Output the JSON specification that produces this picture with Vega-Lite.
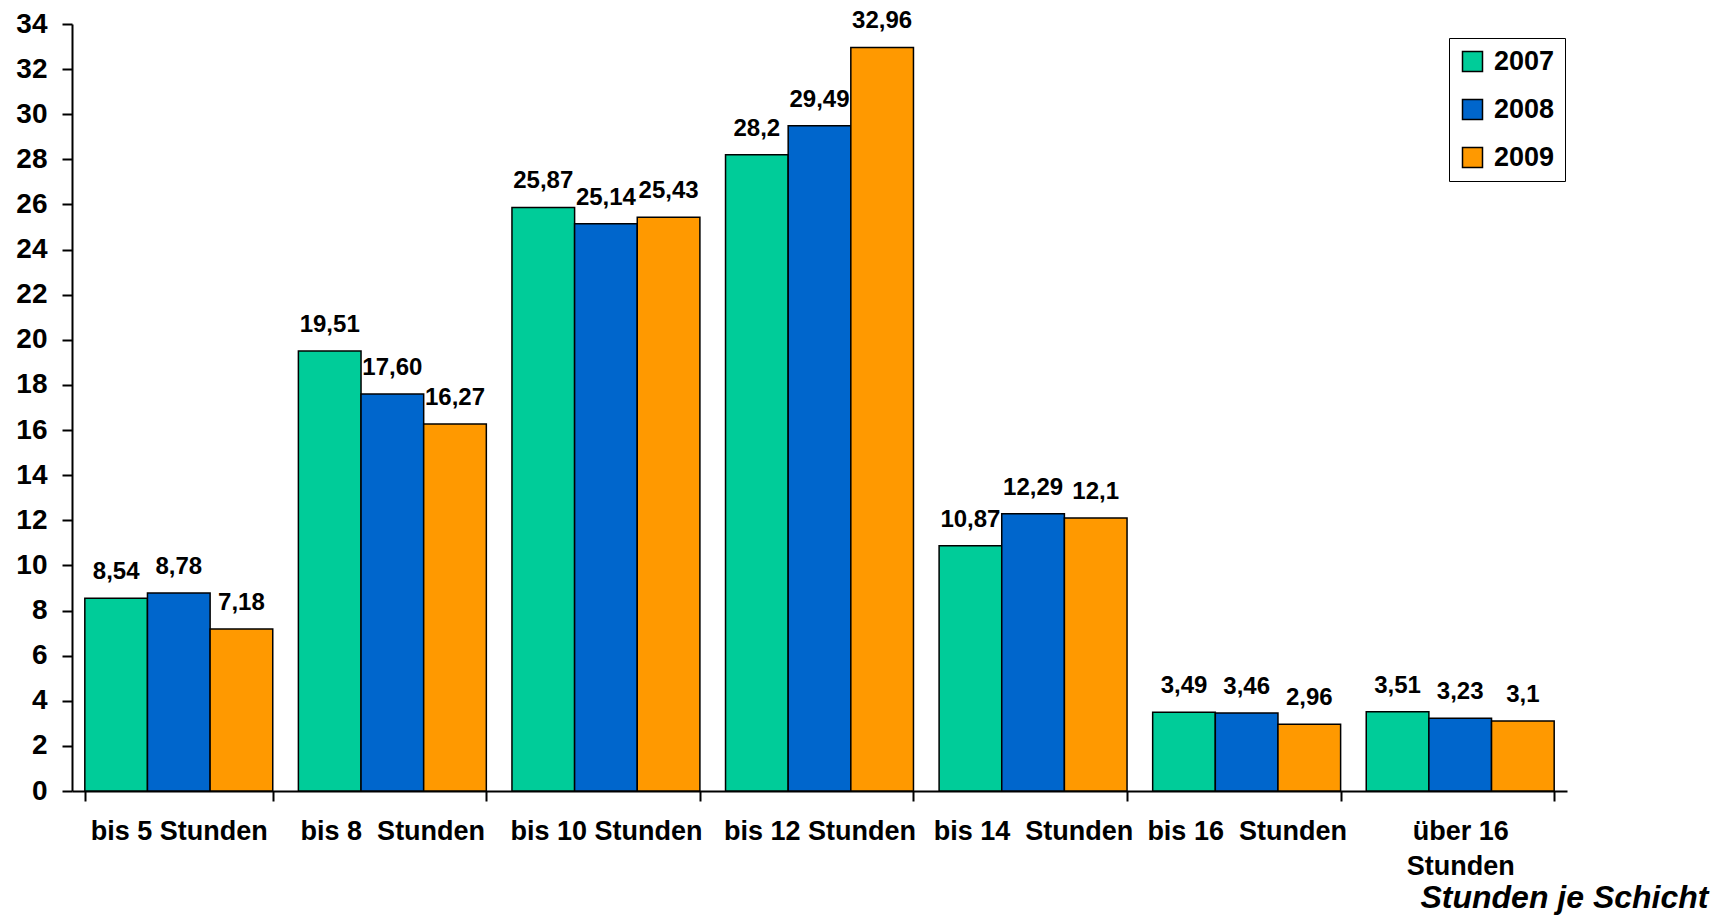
{
  "$schema": "https://vega.github.io/schema/vega-lite/v6.json",
  "width": 1495,
  "height": 767,
  "autosize": {"type": "none"},
  "padding": {"left": 72, "top": 24, "right": 161, "bottom": 124},
  "background": "white",
  "config": {
    "font": "Liberation Sans",
    "view": {"stroke": null}
  },
  "data": {
    "values": [
      {"cat": "bis 5 Stunden", "year": "2007", "value": 8.54, "label": "8,54"},
      {"cat": "bis 5 Stunden", "year": "2008", "value": 8.78, "label": "8,78"},
      {"cat": "bis 5 Stunden", "year": "2009", "value": 7.18, "label": "7,18"},
      {"cat": "bis 8  Stunden", "year": "2007", "value": 19.51, "label": "19,51"},
      {"cat": "bis 8  Stunden", "year": "2008", "value": 17.60, "label": "17,60"},
      {"cat": "bis 8  Stunden", "year": "2009", "value": 16.27, "label": "16,27"},
      {"cat": "bis 10 Stunden", "year": "2007", "value": 25.87, "label": "25,87"},
      {"cat": "bis 10 Stunden", "year": "2008", "value": 25.14, "label": "25,14"},
      {"cat": "bis 10 Stunden", "year": "2009", "value": 25.43, "label": "25,43"},
      {"cat": "bis 12 Stunden", "year": "2007", "value": 28.2, "label": "28,2"},
      {"cat": "bis 12 Stunden", "year": "2008", "value": 29.49, "label": "29,49"},
      {"cat": "bis 12 Stunden", "year": "2009", "value": 32.96, "label": "32,96"},
      {"cat": "bis 14  Stunden", "year": "2007", "value": 10.87, "label": "10,87"},
      {"cat": "bis 14  Stunden", "year": "2008", "value": 12.29, "label": "12,29"},
      {"cat": "bis 14  Stunden", "year": "2009", "value": 12.1, "label": "12,1"},
      {"cat": "bis 16  Stunden", "year": "2007", "value": 3.49, "label": "3,49"},
      {"cat": "bis 16  Stunden", "year": "2008", "value": 3.46, "label": "3,46"},
      {"cat": "bis 16  Stunden", "year": "2009", "value": 2.96, "label": "2,96"},
      {"cat": "über 16 Stunden", "year": "2007", "value": 3.51, "label": "3,51"},
      {"cat": "über 16 Stunden", "year": "2008", "value": 3.23, "label": "3,23"},
      {"cat": "über 16 Stunden", "year": "2009", "value": 3.1, "label": "3,1"}
    ]
  },
  "encoding": {
    "x": {
      "field": "cat",
      "type": "nominal",
      "sort": null,
      "scale": {"paddingInner": 0.12, "paddingOuter": 0.06},
      "axis": {
        "title": "Stunden je Schicht",
        "titleFont": "Liberation Sans",
        "titleFontSize": 32,
        "titleFontWeight": "bold",
        "titleFontStyle": "italic",
        "titleColor": "black",
        "titleX": 1636,
        "titleY": 116,
        "titleAlign": "right",
        "titleBaseline": "alphabetic",
        "labelAngle": 0,
        "labelFontSize": 27,
        "labelFontWeight": "bold",
        "labelColor": "black",
        "labelPadding": 17,
        "labelLineHeight": 35,
        "labelLimit": 0,
        "labelExpr": "datum.label == 'über 16 Stunden' ? ['über 16', 'Stunden'] : replace(datum.label, '  ', '\u00a0 ')",
        "tickBand": "extent",
        "tickSize": 10,
        "tickColor": "black",
        "tickWidth": 2,
        "domainColor": "black",
        "domainWidth": 2,
        "grid": false
      }
    },
    "xOffset": {"field": "year", "type": "nominal", "scale": {"paddingInner": 0, "paddingOuter": 0}},
    "y": {
      "field": "value",
      "type": "quantitative",
      "scale": {"domain": [0, 34], "nice": false},
      "axis": {
        "title": null,
        "values": [0, 2, 4, 6, 8, 10, 12, 14, 16, 18, 20, 22, 24, 26, 28, 30, 32, 34],
        "labelFontSize": 28,
        "labelFontWeight": "bold",
        "labelColor": "black",
        "labelPadding": 15,
        "tickSize": 10,
        "tickColor": "black",
        "tickWidth": 2,
        "domainColor": "black",
        "domainWidth": 2,
        "grid": false
      }
    }
  },
  "layer": [
    {
      "mark": {"type": "bar", "stroke": "black", "strokeWidth": 1.5},
      "encoding": {
        "color": {
          "field": "year",
          "type": "nominal",
          "scale": {"domain": ["2007", "2008", "2009"], "range": ["#00CC99", "#0066CC", "#FF9900"]},
          "legend": {
            "title": null,
            "orient": "none",
            "legendX": 1377,
            "legendY": 14,
            "strokeColor": "black",
            "padding": 10,
            "symbolType": "square",
            "symbolSize": 400,
            "symbolStrokeColor": "black",
            "symbolStrokeWidth": 1.5,
            "symbolOpacity": 1,
            "labelFontSize": 27,
            "labelFontWeight": "bold",
            "labelColor": "black",
            "labelOffset": 8,
            "rowPadding": 20
          }
        }
      }
    },
    {
      "mark": {"type": "text", "baseline": "bottom", "dy": -14, "fontSize": 24, "fontWeight": "bold", "color": "black"},
      "encoding": {
        "text": {"field": "label"}
      }
    }
  ]
}
